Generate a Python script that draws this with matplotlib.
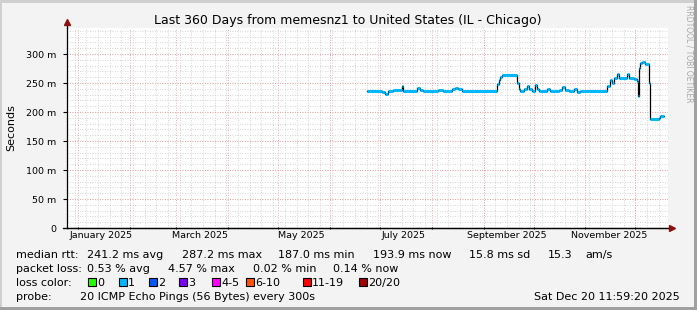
import pandas as pd
import matplotlib
matplotlib.use("Agg")
import matplotlib.pyplot as plt
from matplotlib.patches import Rectangle

W, H = 697, 310

# median rtt steps: start of each step and its value (ms)
step_dates = [
    "2025-06-23", "2025-07-02", "2025-07-04", "2025-07-06", "2025-07-09",
    "2025-07-14", "2025-07-15", "2025-07-23", "2025-07-25", "2025-07-27",
    "2025-08-05", "2025-08-08", "2025-08-13", "2025-08-15", "2025-08-17",
    "2025-08-19", "2025-09-09", "2025-09-10", "2025-09-11", "2025-09-12",
    "2025-09-21", "2025-09-22", "2025-09-23", "2025-09-25", "2025-09-27",
    "2025-09-28", "2025-09-30", "2025-10-02", "2025-10-03", "2025-10-04",
    "2025-10-09", "2025-10-11", "2025-10-16", "2025-10-18", "2025-10-20",
    "2025-10-22", "2025-10-25", "2025-10-27", "2025-10-29", "2025-11-14",
    "2025-11-16", "2025-11-17", "2025-11-18", "2025-11-20", "2025-11-21",
    "2025-11-26", "2025-11-27", "2025-11-30", "2025-12-02", "2025-12-02 12:00",
    "2025-12-03", "2025-12-04", "2025-12-05", "2025-12-07", "2025-12-09",
    "2025-12-10", "2025-12-15", "2025-12-16",
]
median_ms = [
    237, 235, 232, 237, 238,
    245, 237, 241, 238, 237,
    238, 237, 239, 242, 239,
    237, 249, 256, 261, 264,
    250, 239, 236, 240, 245,
    239, 237, 246, 240, 237,
    240, 237, 238, 243, 238,
    237, 240, 235, 237, 245,
    256, 250, 258, 265, 258,
    266, 258, 257, 254, 228,
    276, 285, 287, 283, 250,
    188, 190, 194,
]
last_date = "2025-12-18"

y_ticks = [0, 50, 100, 150, 200, 250, 300]
y_labels = ["0", "50 m", "100 m", "150 m", "200 m", "250 m", "300 m"]
month_labels = ["January 2025", "March 2025", "May 2025", "July 2025",
                "September 2025", "November 2025"]
month_label_dates = ["2025-01-15", "2025-03-15", "2025-05-15", "2025-07-15",
                     "2025-09-15", "2025-11-15"]

loss_labels = ["0", "1", "2", "3", "4-5", "6-10", "11-19", "20/20"]
loss_colors = ["#26ff00", "#00b8ff", "#0059ff", "#7e00ff", "#ff00ff",
               "#ff5500", "#ff0000", "#a10000"]

rtt_stats = ["241.2 ms avg", "287.2 ms max", "187.0 ms min", "193.9 ms now",
             "15.8 ms sd", "15.3", "am/s"]
loss_stats = ["0.53 % avg", "4.57 % max", "0.02 % min", "0.14 % now"]

start = pd.Timestamp("2024-12-25 11:59:20")
end = pd.Timestamp("2025-12-20 11:59:20")


def fx(px):
    return px / W


def fy(py):
    return 1 - py / H


fig = plt.figure(figsize=(W / 100, H / 100), dpi=100, facecolor="#f3f3f3")
ax = fig.add_axes([fx(67), fy(228), fx(668) - fx(67), fy(28) - fy(228)])
ax.set_facecolor("white")

# grid
minor_grid = dict(color="#c8c8c8", lw=0.6, ls=(0, (1, 2)), zorder=1)
major_grid = dict(color="#f09090", lw=0.6, ls=(0, (1, 2)), zorder=1)
for d in pd.date_range("2024-12-30", end, freq="7D"):
    ax.axvline(d, **minor_grid)
for v in range(10, 345, 10):
    ax.axhline(v, **minor_grid)
month_starts = pd.date_range("2025-01-01", end, freq="MS")
for d in month_starts:
    ax.axvline(d, **major_grid)
for v in y_ticks[1:]:
    ax.axhline(v, **major_grid)

# median line
dates = pd.to_datetime(step_dates + [last_date], format="mixed")
vals = median_ms + [median_ms[-1]]
ax.step(dates, vals, where="post", color="black", lw=0.9, zorder=3)
ax.hlines(median_ms, dates[:-1], dates[1:], color="#00b8ff", lw=2.2, zorder=4)

ax.set_xlim(start, end)
ax.set_ylim(0, 345)
ax.set_yticks(y_ticks)
ax.set_yticklabels(y_labels, fontsize=6.8)
ax.tick_params(axis="y", which="major", length=3, direction="out", pad=5)
ax.set_xticks(month_starts)
ax.set_xticklabels([])
ax.tick_params(axis="x", which="major", length=2, direction="inout")
for lab, d in zip(month_labels, month_label_dates):
    ax.text(pd.Timestamp(d), -5, lab, fontsize=6.8, ha="center", va="top")

for s in ["top", "right"]:
    ax.spines[s].set_visible(False)
for s in ["left", "bottom"]:
    ax.spines[s].set_linewidth(0.9)

# axis arrows
ax.plot([0, 0], [1, 1.025], color="black", lw=0.9, transform=ax.transAxes,
        clip_on=False)
ax.plot([-0.006, 1.005], [0, 0], color="black", lw=0.9, transform=ax.transAxes,
        clip_on=False)
ax.plot([0], [1.03], marker="^", ms=4, color="#8b1010", transform=ax.transAxes,
        clip_on=False)
ax.plot([1.006], [0], marker=">", ms=4, color="#8b1010", transform=ax.transAxes,
        clip_on=False)

fig.text(fx(348), fy(24), "Last 360 Days from memesnz1 to United States (IL - Chicago)",
         fontsize=9, ha="center", va="baseline")
fig.text(fx(11), fy(128), "Seconds", fontsize=8, rotation=90, ha="center",
         va="center")
fig.text(fx(688.5), fy(5), "RRDTOOL / TOBI OETIKER", fontsize=5.5,
         rotation=270, ha="center", va="top", color="#a8a8a8")

# legend rows
rows_y = [258, 272, 286, 300]
fig.text(fx(16), fy(rows_y[0]), "median rtt:", fontsize=8, va="baseline")
for x, t in zip([87, 182, 278, 373, 469, 548, 585], rtt_stats):
    fig.text(fx(x), fy(rows_y[0]), t, fontsize=8, va="baseline")
fig.text(fx(16), fy(rows_y[1]), "packet loss:", fontsize=8, va="baseline")
for x, t in zip([87, 168, 253, 333], loss_stats):
    fig.text(fx(x), fy(rows_y[1]), t, fontsize=8, va="baseline")
fig.text(fx(16), fy(rows_y[2]), "loss color:", fontsize=8, va="baseline")
for x, lab, c in zip([88, 119, 149, 179, 212, 246, 303, 359], loss_labels, loss_colors):
    fig.add_artist(Rectangle((fx(x), fy(286)), fx(8), 8 / H, facecolor=c,
                             edgecolor="black", lw=0.8, transform=fig.transFigure))
    fig.text(fx(x + 9), fy(rows_y[2]), lab, fontsize=8, va="baseline")
fig.text(fx(16), fy(rows_y[3]), "probe:", fontsize=8, va="baseline")
fig.text(fx(80), fy(rows_y[3]), "20 ICMP Echo Pings (56 Bytes) every 300s",
         fontsize=8, va="baseline")
fig.text(fx(680), fy(rows_y[3]), "Sat Dec 20 11:59:20 2025", fontsize=8,
         ha="right", va="baseline")

# frame shading
fig.add_artist(Rectangle((0, 1 - 3 / H), 1, 3 / H, facecolor="#d0d0d0", lw=0,
                         transform=fig.transFigure))
fig.add_artist(Rectangle((0, 0), 2 / W, 1, facecolor="#d0d0d0", lw=0,
                         transform=fig.transFigure))
fig.add_artist(Rectangle((0, 0), 1, 3 / H, facecolor="#a0a0a0", lw=0,
                         transform=fig.transFigure))
fig.add_artist(Rectangle((1 - 3 / W, 0), 3 / W, 1, facecolor="#a0a0a0", lw=0,
                         transform=fig.transFigure))

fig.savefig("out.png", dpi=100, facecolor=fig.get_facecolor())
